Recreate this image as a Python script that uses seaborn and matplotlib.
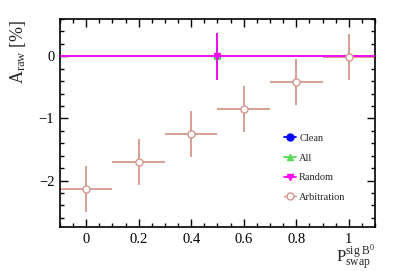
import numpy as np
import matplotlib
matplotlib.use("Agg")
import matplotlib.pyplot as plt
from matplotlib.lines import Line2D
from matplotlib.ticker import MultipleLocator
import seaborn as sns

# data
p_swap = [0.0, 0.2, 0.4, 0.6, 0.8, 1.0]
arb_val = [-2.13, -1.70, -1.25, -0.85, -0.42, -0.01]
arb_err = [0.37, 0.37, 0.37, 0.37, 0.37, 0.37]
arb_xerr = 0.1

flat_x = 0.5
flat_xerr = 0.6
clean_val, clean_err = 0.0, 0.38
all_val, all_err = 0.0, 0.38
random_val, random_err = 0.0, 0.38

sns.set_theme(style="ticks")
plt.rcParams["font.family"] = ["Liberation Serif", "DejaVu Serif"]
plt.rcParams["mathtext.fontset"] = "custom"
plt.rcParams["mathtext.rm"] = "Liberation Serif"
plt.rcParams["mathtext.it"] = "Liberation Serif:italic"

fig = plt.figure(figsize=(3.99, 2.71), dpi=100)
ax = fig.add_axes([0.150, 0.162, 0.790, 0.768])

c_clean = "#0000ff"
c_all = "#55dd55"
c_rand = "#ff00ff"
c_arb = "#d4968c"

# arbitration error bars underneath, markers on top
ax.errorbar(p_swap, arb_val, xerr=arb_xerr, yerr=arb_err, fmt="none",
            ecolor=c_arb, lw=1.3, capsize=0, zorder=1)
ax.errorbar([flat_x], [clean_val], xerr=flat_xerr, yerr=clean_err, fmt="o",
            color=c_clean, ms=4, lw=1.3, capsize=0, zorder=2)
ax.errorbar([flat_x], [all_val], xerr=flat_xerr, yerr=all_err, fmt="^",
            color=c_all, ms=4, lw=1.3, capsize=0, zorder=2)
ax.errorbar([flat_x], [random_val], xerr=flat_xerr, yerr=random_err, fmt="v",
            color=c_rand, ms=4, lw=1.3, capsize=0, zorder=3)
sns.scatterplot(x=p_swap, y=arb_val, ax=ax, marker="o", s=26,
                facecolor="white", edgecolor=c_arb, linewidth=1.0, zorder=4)

ax.set_xlim(-0.1, 1.1)
ax.set_ylim(-2.75, 0.6)
ax.set_xticks([0, 0.2, 0.4, 0.6, 0.8, 1.0])
ax.set_xticklabels(["0", "0.2", "0.4", "0.6", "0.8", "1"])
ax.set_yticks([-2, -1, 0])
ax.set_yticklabels(["\u22122", "\u22121", "0"])
ax.xaxis.set_minor_locator(MultipleLocator(0.05))
ax.yaxis.set_minor_locator(MultipleLocator(0.2))
ax.tick_params(which="both", direction="in", top=True, right=True,
               labelsize=10.5, width=1, colors="black")
ax.tick_params(which="major", length=6, pad=4)
ax.tick_params(which="minor", length=3)
for s in ax.spines.values():
    s.set_linewidth(1.2)
    s.set_color("black")

ax.set_ylabel(r"A$_{\rm raw}$ [%]", fontsize=13, loc="top", labelpad=8)
ax.set_xlabel(r"P$_{\rm swap}^{\rm sig\ B^0}$", fontsize=12, loc="right", labelpad=-1)

handles = [
    Line2D([], [], color=c_clean, marker="o", ms=5, lw=1.3),
    Line2D([], [], color=c_all, marker="^", ms=5, lw=1.3),
    Line2D([], [], color=c_rand, marker="v", ms=5, lw=1.3),
    Line2D([], [], color=c_arb, marker="o", mfc="white", ms=5, lw=1.0),
]
ax.legend(handles, ["Clean", "All", "Random", "Arbitration"], loc="lower left",
          bbox_to_anchor=(0.68, 0.075), frameon=False, fontsize=7.5,
          handlelength=1.2, handletextpad=0.3, labelspacing=1.0)

fig.savefig("out.png", dpi=100)
